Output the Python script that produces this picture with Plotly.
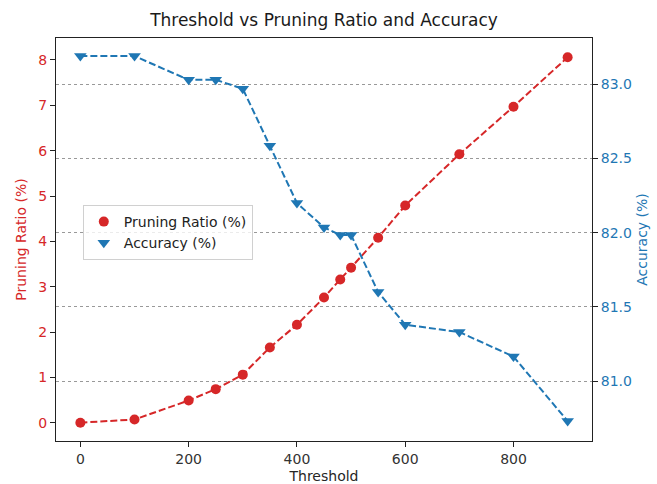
import plotly.graph_objects as go

thresholds = [0, 100, 200, 250, 300, 350, 400, 450, 480, 500, 550, 600, 700, 800, 900]
pruning_ratio = [0.0, 0.07, 0.49, 0.74, 1.06, 1.66, 2.16, 2.76, 3.16, 3.42, 4.08, 4.79, 5.92, 6.97, 8.06]
accuracy = [83.19, 83.19, 83.03, 83.03, 82.97, 82.585, 82.2, 82.035, 81.985, 81.985, 81.6, 81.38, 81.33, 81.165, 80.73]

RED = "#d62728"
BLUE = "#1f77b4"
FONT = "DejaVu Sans"

fig = go.Figure()

fig.add_trace(go.Scatter(
    x=thresholds, y=pruning_ratio, mode="lines",
    line=dict(color=RED, width=2, dash="7px,3px"),
    showlegend=False, hoverinfo="skip", yaxis="y"))
fig.add_trace(go.Scatter(
    x=thresholds, y=pruning_ratio, mode="markers", name="Pruning Ratio (%)",
    marker=dict(color=RED, size=10, symbol="circle"), yaxis="y"))
fig.add_trace(go.Scatter(
    x=thresholds, y=accuracy, mode="lines",
    line=dict(color=BLUE, width=2, dash="7px,3px"),
    showlegend=False, hoverinfo="skip", yaxis="y2"))
fig.add_trace(go.Scatter(
    x=thresholds, y=accuracy, mode="markers", name="Accuracy (%)",
    marker=dict(color=BLUE, size=11, symbol="triangle-down"), yaxis="y2"))

fig.update_layout(
    width=657, height=484,
    margin=dict(l=56, r=65, t=38, b=43, autoexpand=False),
    paper_bgcolor="white", plot_bgcolor="white",
    font=dict(family=FONT, size=14, color="#262626"),
    title=dict(text="Threshold vs Pruning Ratio and Accuracy", x=0.5, xref="paper",
               xanchor="center", y=1 - 20 / 484, yanchor="middle",
               font=dict(size=17, color="#1a1a1a")),
    xaxis=dict(range=[-45, 945], tickvals=[0, 200, 400, 600, 800],
               showline=True, linecolor="#222", linewidth=1, mirror=True,
               ticks="outside", ticklen=5, tickcolor="#222", showgrid=False,
               zeroline=False, automargin=False,
               title=dict(text="Threshold", standoff=6, font=dict(size=14)),
               tickfont=dict(size=14, color="#333")),
    yaxis=dict(range=[-0.404, 8.485], tickvals=list(range(0, 9)),
               showline=True, linecolor="#222", linewidth=1,
               ticks="outside", ticklen=5, tickcolor="#222", showgrid=False,
               zeroline=False, automargin=False,
               title=dict(text="Pruning Ratio (%)", standoff=8, font=dict(size=14, color=RED)),
               tickfont=dict(size=14, color=RED)),
    yaxis2=dict(range=[80.596, 83.312], tickvals=[81.0, 81.5, 82.0, 82.5, 83.0],
                tickformat=".1f", overlaying="y", side="right",
                showline=True, linecolor="#222", linewidth=1,
                ticks="outside", ticklen=5, tickcolor="#222",
                showgrid=True, gridcolor="#999", gridwidth=0.7, griddash="dot",
                zeroline=False, automargin=False,
                title=dict(text="Accuracy (%)", standoff=6, font=dict(size=14, color=BLUE)),
                tickfont=dict(size=14, color=BLUE)),
    legend=dict(x=0.05, y=(441 - 205) / 403, xanchor="left", yanchor="top",
                bgcolor="rgba(255,255,255,0.8)", bordercolor="#d0d0d0", borderwidth=1,
                font=dict(size=14, color="#222"), itemwidth=30, tracegroupgap=0),
)

fig.write_html("out.html", config={"displayModeBar": False},
               post_script="document.body.style.margin='0';")
